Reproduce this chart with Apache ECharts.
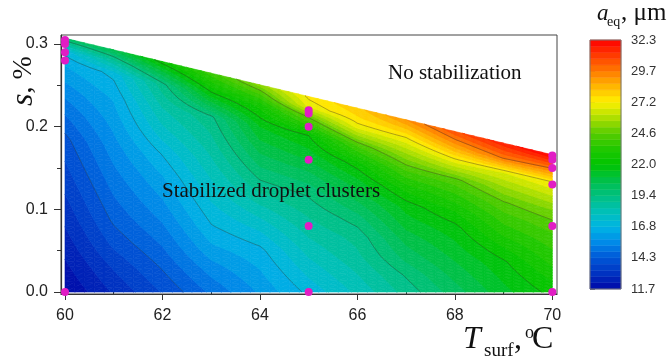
<!DOCTYPE html>
<html><head><meta charset="utf-8">
<script src="https://cdn.jsdelivr.net/npm/echarts@6/dist/echarts.min.js"></script>
<style>html,body{margin:0;padding:0;background:#fff}#c{width:671px;height:360px}</style>
</head><body><div id="c"></div>
<script>
// ---------- data ----------
// columns of the measured/contoured field: T_surf (°C)
const T_VALUES = [60, 61, 62, 63, 64, 65, 66, 67, 68, 69, 70];
// rows as a fraction of the local upper limit of s (stability boundary)
const F_ROWS = [0, 0.1, 0.2, 0.3, 0.4, 0.5, 0.6, 0.7, 0.8, 0.9, 0.95, 1.0];
// upper boundary of the region: s (%) at T = 60 and T = 70
const TOP_S = [0.307, 0.166];
// a_eq (µm) per column, bottom -> top along F_ROWS
const A_T60 = [11.7, 12.1, 12.5, 12.9, 13.3, 13.7, 14.1, 14.8, 15.6, 16.4, 17.1, 20.0];
const A_T61 = [12.8, 13.3, 13.9, 14.4, 14.8, 15.2, 15.6, 16.0, 16.4, 17.0, 18.6, 20.5];
const A_T62 = [13.8, 14.3, 14.8, 15.3, 15.8, 16.3, 16.9, 17.7, 18.4, 19.2, 20.7, 22.3];
const A_T63 = [14.9, 15.5, 16.2, 16.8, 17.3, 17.8, 18.3, 18.8, 19.3, 21.7, 22.8, 23.8];
const A_T64 = [15.9, 16.3, 16.7, 17.4, 18.2, 19.1, 19.9, 20.7, 21.5, 22.7, 23.9, 25.3];
const A_T65 = [17.0, 17.5, 18.0, 18.5, 19.0, 19.5, 20.3, 21.2, 22.0, 24.8, 26.8, 27.3];
const A_T66 = [18.0, 18.4, 18.8, 19.1, 19.7, 20.5, 21.3, 22.3, 24.2, 26.9, 27.6, 28.0];
const A_T67 = [19.1, 19.5, 20.1, 20.6, 21.2, 21.7, 22.7, 24.0, 25.5, 27.2, 28.2, 29.2];
const A_T68 = [20.2, 20.6, 21.0, 21.4, 21.8, 22.5, 23.4, 24.4, 26.5, 28.7, 29.7, 30.6];
const A_T69 = [21.3, 21.6, 21.9, 22.5, 23.2, 23.8, 24.5, 25.5, 26.6, 29.8, 30.7, 31.6];
const A_T70 = [22.2, 22.6, 23.1, 23.5, 23.9, 24.4, 25.1, 26.1, 27.1, 29.7, 31.0, 32.3];
const COLUMNS = [A_T60, A_T61, A_T62, A_T63, A_T64, A_T65, A_T66, A_T67, A_T68, A_T69, A_T70];

// measured points (s, %) at each temperature
const PTS_T60 = [0, 0.28, 0.29, 0.30, 0.305];
const PTS_T65 = [0, 0.08, 0.16, 0.20, 0.216, 0.22];
const PTS_T70 = [0, 0.08, 0.13, 0.15, 0.16, 0.165];

// ticks
const X_TICKS = [60, 62, 64, 66, 68, 70];
const X_MINOR = [61, 63, 65, 67, 69];
const Y_TICKS = [0, 0.1, 0.2, 0.3];
const Y_MINOR = [0.05, 0.15, 0.25];
const CB_LABELS = ['11.7', '14.3', '16.8', '19.4', '22.0', '24.6', '27.2', '29.7', '32.3'];
const A_MIN = 11.7, A_MAX = 32.3, N_LEVELS = 40;

// colour map
const COLOR_STOPS = [
  [11.7, '#0008a8'], [12.9, '#0030c0'], [14.3, '#0058d8'], [15.5, '#0088e8'],
  [16.8, '#00b4e4'], [18.1, '#00c0b8'], [19.4, '#00c080'], [20.7, '#00c048'],
  [22.0, '#00c400'], [23.3, '#20c800'], [24.6, '#58cc00'], [25.9, '#b0e000'],
  [27.2, '#fff000'], [28.5, '#ffb400'], [29.7, '#ff7c00'], [31.0, '#ff3c00'], [32.3, '#ff0000']
];

// ---------- helpers ----------
function hex(c){ return [parseInt(c.substr(1,2),16), parseInt(c.substr(3,2),16), parseInt(c.substr(5,2),16)]; }
function colorAt(v){
  if (v <= COLOR_STOPS[0][0]) return COLOR_STOPS[0][1];
  for (let k = 0; k < COLOR_STOPS.length - 1; k++) {
    const a = COLOR_STOPS[k], b = COLOR_STOPS[k+1];
    if (v <= b[0]) {
      const t = (v - a[0]) / (b[0] - a[0]);
      const ca = hex(a[1]), cb = hex(b[1]);
      const r = ca.map((x, n) => Math.round(x + t * (cb[n] - x)));
      return 'rgb(' + r.join(',') + ')';
    }
  }
  return COLOR_STOPS[COLOR_STOPS.length-1][1];
}
const STEP = (A_MAX - A_MIN) / N_LEVELS;
const BAND_COLORS = [];
for (let k = 0; k < N_LEVELS; k++) BAND_COLORS.push(colorAt(A_MIN + (k + 0.5) * STEP));

function sTop(T){
  const t0 = T_VALUES[0], t1 = T_VALUES[T_VALUES.length-1];
  return TOP_S[0] + (TOP_S[1] - TOP_S[0]) * (T - t0) / (t1 - t0);
}
function clip(poly, L, dir){
  const out = [], n = poly.length;
  for (let m = 0; m < n; m++) {
    const P = poly[m], Q = poly[(m+1) % n];
    const pin = dir * (P.v - L) >= 0, qin = dir * (Q.v - L) >= 0;
    if (pin) out.push(P);
    if (pin !== qin) {
      const t = (L - P.v) / (Q.v - P.v);
      out.push({x: P.x + t*(Q.x-P.x), y: P.y + t*(Q.y-P.y), v: L});
    }
  }
  return out;
}
const SUB = 5;
function cellTriangles(i, j, api){
  const T0 = T_VALUES[i], T1 = T_VALUES[i+1], F0 = F_ROWS[j], F1 = F_ROWS[j+1];
  const v00 = COLUMNS[i][j], v10 = COLUMNS[i+1][j], v01 = COLUMNS[i][j+1], v11 = COLUMNS[i+1][j+1];
  const P = [];
  for (let a = 0; a <= SUB; a++) {
    const row = [];
    for (let b = 0; b <= SUB; b++) {
      const u = a / SUB, w = b / SUB;
      const T = T0 + u * (T1 - T0), f = F0 + w * (F1 - F0);
      const v = (1-u)*(1-w)*v00 + u*(1-w)*v10 + (1-u)*w*v01 + u*w*v11;
      const c = api.coord([T, f * sTop(T)]);
      row.push({x: c[0], y: c[1], v: v});
    }
    P.push(row);
  }
  const tris = [];
  for (let a = 0; a < SUB; a++) for (let b = 0; b < SUB; b++) {
    const p00 = P[a][b], p10 = P[a+1][b], p01 = P[a][b+1], p11 = P[a+1][b+1];
    tris.push([p00, p10, p11], [p00, p11, p01]);
  }
  return tris;
}
const CELLS = [];
for (let i = 0; i < T_VALUES.length - 1; i++)
  for (let j = 0; j < F_ROWS.length - 1; j++) {
    const Tm = (T_VALUES[i] + T_VALUES[i+1]) / 2, fm = (F_ROWS[j] + F_ROWS[j+1]) / 2;
    CELLS.push([Tm, fm * sTop(Tm), i, j]);
  }

function renderField(params, api){
  const i = api.value(2), j = api.value(3);
  const tris = cellTriangles(i, j, api);
  const children = [];
  tris.forEach(tri => {
    const vs = tri.map(p => p.v);
    let kmin = Math.floor((Math.min.apply(null, vs) - A_MIN) / STEP);
    let kmax = Math.floor((Math.max.apply(null, vs) - A_MIN) / STEP);
    kmin = Math.max(0, Math.min(N_LEVELS-1, kmin));
    kmax = Math.max(0, Math.min(N_LEVELS-1, kmax));
    for (let k = kmin; k <= kmax; k++) {
      let poly = tri;
      if (k > kmin) poly = clip(poly, A_MIN + k * STEP, 1);
      if (k < kmax) poly = clip(poly, A_MIN + (k+1) * STEP, -1);
      if (poly.length < 3) continue;
      const col = BAND_COLORS[k];
      children.push({type: 'polygon', silent: true,
        shape: {points: poly.map(p => [p.x, p.y])},
        style: {fill: col, stroke: col, lineWidth: 0.6}});
    }
  });
  return {type: 'group', children: children};
}
function renderContours(params, api){
  const i = api.value(2), j = api.value(3);
  const tris = cellTriangles(i, j, api);
  const children = [];
  for (let m = 1; m < CB_LABELS.length - 1; m++) {
    const L = A_MIN + m * (A_MAX - A_MIN) / (CB_LABELS.length - 1) + 1e-6;
    tris.forEach(tri => {
      const pts = [];
      for (let e = 0; e < 3; e++) {
        const P = tri[e], Q = tri[(e+1)%3];
        if ((P.v - L) * (Q.v - L) < 0) {
          const t = (L - P.v) / (Q.v - P.v);
          pts.push([P.x + t*(Q.x-P.x), P.y + t*(Q.y-P.y)]);
        }
      }
      if (pts.length === 2) children.push({type: 'line', silent: true,
        shape: {x1: pts[0][0], y1: pts[0][1], x2: pts[1][0], y2: pts[1][1]},
        style: {stroke: 'rgba(45,45,45,0.55)', lineWidth: 0.7}});
    });
  }
  return {type: 'group', children: children};
}
const CB_BANDS = [];
for (let k = 0; k < N_LEVELS; k++) CB_BANDS.push([0.5, k + 0.5, k]);
function renderBar(params, api){
  const k = api.value(2);
  const p0 = api.coord([0, k]), p1 = api.coord([1, k + 1]);
  const children = [{type: 'rect', silent: true,
    shape: {x: p0[0], y: p1[1], width: p1[0]-p0[0], height: p0[1]-p1[1]},
    style: {fill: BAND_COLORS[k], stroke: BAND_COLORS[k], lineWidth: 0.5}}];
  if (k === N_LEVELS - 1) {
    const a = api.coord([0, 0]), b = api.coord([1, N_LEVELS]);
    children.push({type: 'rect', silent: true, z2: 10,
      shape: {x: a[0], y: b[1], width: b[0]-a[0], height: a[1]-b[1]},
      style: {fill: 'none', stroke: '#777', lineWidth: 1}});
  }
  return {type: 'group', children: children};
}
function pts(T, arr){ return arr.map(s => [T, s]); }

const SERIF = "'Liberation Serif', 'Times New Roman', serif";
const SANS = "'Liberation Sans', Arial, sans-serif";
function mid(baseline, fs){ return baseline - 0.3375 * fs; }
function txt(x, baseline, fs, s, extra){
  return {type: 'text', x: x, y: mid(baseline, fs), silent: true, z: 100, zlevel: 0,
    style: Object.assign({text: s, fontSize: fs, fontFamily: SERIF, fill: '#111',
      align: 'left', verticalAlign: 'middle', textAlign: 'left', textVerticalAlign: 'middle'}, extra || {})};
}

const option = {
  animation: false,
  backgroundColor: '#fff',
  grid: [
    {left: 61, top: 35, right: 114, bottom: 66, show: true, borderColor: '#444', borderWidth: 1},
    {left: 590, top: 40, width: 31, height: 249, show: false}
  ],
  xAxis: [
    {type: 'value', gridIndex: 0, min: 59.918, max: 70.096, position: 'bottom',
     axisLine: {show: true, onZero: false, lineStyle: {color: '#333', width: 1.2}},
     axisTick: {show: true, customValues: X_TICKS, length: 6, lineStyle: {color: '#333'}},
     axisLabel: {show: true, customValues: X_TICKS, fontSize: 16, fontFamily: SANS, color: '#222', margin: 14,
                 formatter: v => String(v)},
     splitLine: {show: false}},
    {type: 'value', gridIndex: 0, min: 59.918, max: 70.096, position: 'bottom', offset: 0,
     axisLine: {show: false}, axisTick: {show: true, customValues: X_MINOR, length: 3, lineStyle: {color: '#333'}},
     axisLabel: {show: false}, splitLine: {show: false}},
    {type: 'value', gridIndex: 1, min: 0, max: 1, show: false}
  ],
  yAxis: [
    {type: 'value', gridIndex: 0, min: -0.0024, max: 0.3109, position: 'left',
     axisLine: {show: true, onZero: false, lineStyle: {color: '#333', width: 1.2}},
     axisTick: {show: true, customValues: Y_TICKS, length: 7, lineStyle: {color: '#333'}},
     axisLabel: {show: true, customValues: Y_TICKS, fontSize: 16, fontFamily: SANS, color: '#222', margin: 13,
                 formatter: v => v.toFixed(1)},
     splitLine: {show: false}},
    {type: 'value', gridIndex: 0, min: -0.0024, max: 0.3109, position: 'left', offset: 0,
     axisLine: {show: false}, axisTick: {show: true, customValues: Y_MINOR, length: 4, lineStyle: {color: '#333'}},
     axisLabel: {show: false}, splitLine: {show: false}},
    {type: 'value', gridIndex: 1, min: 0, max: N_LEVELS, interval: 5, position: 'right',
     axisLine: {show: false}, axisTick: {show: true, length: 5, lineStyle: {color: '#777'}},
     axisLabel: {show: true, fontSize: 13, fontFamily: SANS, color: '#333', margin: 10,
                 formatter: v => CB_LABELS[Math.round(v / 5)]},
     splitLine: {show: false}}
  ],
  series: [
    {type: 'custom', name: 'field', xAxisIndex: 0, yAxisIndex: 0, data: CELLS, renderItem: renderField,
     encode: {x: 0, y: 1}, z: 1, silent: true},
    {type: 'custom', name: 'contours', xAxisIndex: 0, yAxisIndex: 0, data: CELLS, renderItem: renderContours,
     encode: {x: 0, y: 1}, z: 2, silent: true},
    {type: 'custom', name: 'colorbar', xAxisIndex: 2, yAxisIndex: 2, data: CB_BANDS, renderItem: renderBar,
     encode: {x: 0, y: 1}, z: 1, silent: true},
    {type: 'scatter', name: 'points', xAxisIndex: 0, yAxisIndex: 0, clip: false, z: 5,
     symbol: 'circle', symbolSize: 8, itemStyle: {color: '#e11dc4', opacity: 1},
     data: pts(60, PTS_T60).concat(pts(65, PTS_T65), pts(70, PTS_T70))}
  ],
  graphic: [
    txt(162, 199, 21, 'Stabilized droplet clusters'),
    txt(388, 80.5, 21, 'No stabilization'),
    // x-axis title
    txt(463, 350, 32, 'T', {fontStyle: 'italic'}),
    txt(484, 357, 19, 'surf'),
    txt(514, 350, 32, ','),
    txt(525, 339, 18, 'o'),
    txt(532, 350, 32, 'C'),
    // colour bar title
    txt(597, 21.5, 23, 'a', {fontStyle: 'italic'}),
    txt(607, 27, 14, 'eq'),
    txt(621, 21.5, 25, ', μm'),
    // y-axis title (rotated)
    {type: 'text', x: 24, y: 81, rotation: Math.PI / 2, silent: true, z: 100,
     style: {text: '{i|s}{r|, %}', fill: '#111', align: 'center', verticalAlign: 'middle',
             textAlign: 'center', textVerticalAlign: 'middle',
             rich: {i: {fontFamily: SERIF, fontStyle: 'italic', fontSize: 32, fill: '#111'},
                    r: {fontFamily: SERIF, fontSize: 28, fill: '#111'}}}}
  ]
};
const chart = echarts.init(document.getElementById('c'), null, {renderer: 'canvas'});
chart.setOption(option);
</script>
</body></html>
